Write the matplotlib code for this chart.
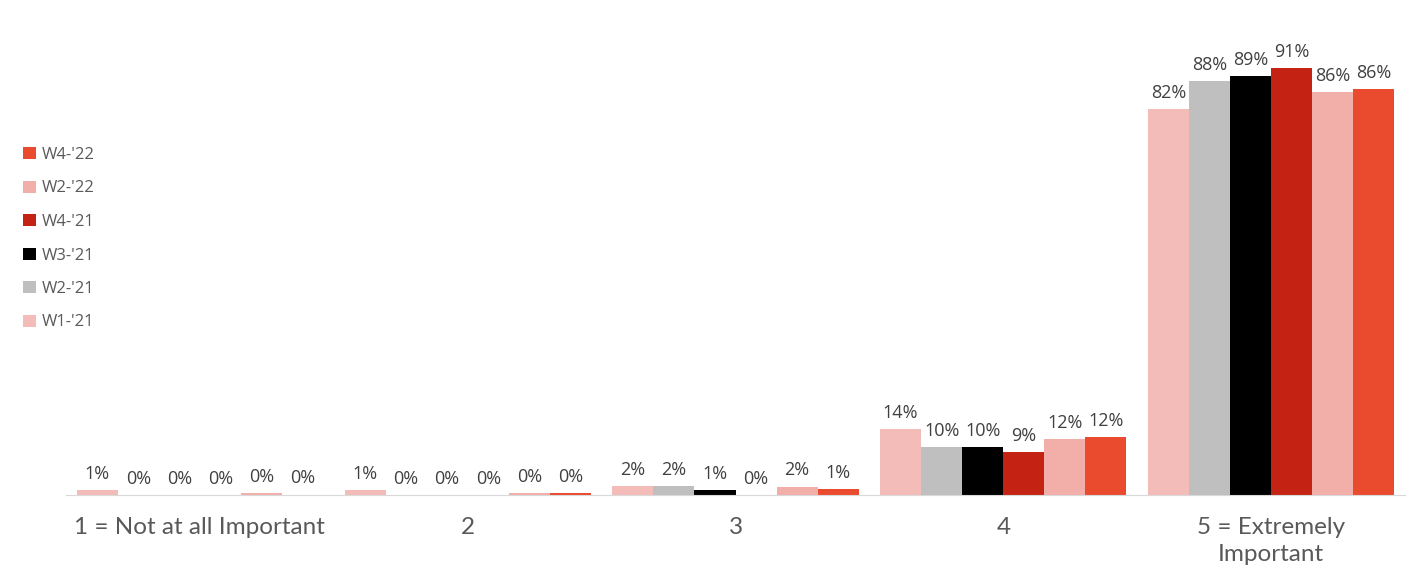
import matplotlib
matplotlib.use('Agg')
import matplotlib.pyplot as plt
import numpy as np

categories = ['1 = Not at all Important', '2', '3', '4', '5 = Extremely\nImportant']
series = ["W1-'21", "W2-'21", "W3-'21", "W4-'21", "W2-'22", "W4-'22"]
colors = ['#F4BCB9', '#BFBFBF', '#000000', '#C42314', '#F2AEA9', '#EA4B2F']
values = [
    [1.0, 0.0, 0.0, 0.0, 0.4, 0.1],
    [1.0, 0.0, 0.0, 0.0, 0.4, 0.4],
    [2.0, 2.0, 1.0, 0.0, 1.8, 1.3],
    [14.0, 10.2, 10.2, 9.2, 11.9, 12.3],
    [82.1, 88.0, 89.1, 90.8, 85.7, 86.3],
]
vals = np.array(values).T  # series x category

fig = plt.figure(figsize=(14.1, 5.74), dpi=100)
ax = fig.add_axes([66/1410, 79/574, 1339/1410, 470/574])

x = np.arange(len(categories))
w = 0.92 / len(series)
for i, (name, col) in enumerate(zip(series, colors)):
    pos = x - 0.46 + w * (i + 0.5)
    ax.bar(pos, vals[i], width=w, color=col, label=name)
    for xp, v in zip(pos, vals[i]):
        ax.text(xp, v + 1.5, f'{v:.0f}%', ha='center', va='bottom',
                fontsize=13, color='#404040', family='Open Sans')

ax.set_xlim(-0.5, len(categories) - 0.5)
ax.set_ylim(0, 100)
ax.set_yticks([])
ax.set_xticks(x)
ax.set_xticklabels(categories, fontsize=17.5, color='#595959', family='Lato',
                   linespacing=1.35)
ax.tick_params(axis='x', length=0, pad=16)
for s in ['top', 'right', 'left']:
    ax.spines[s].set_visible(False)
ax.spines['bottom'].set_color('#D9D9D9')

h, l = ax.get_legend_handles_labels()
fig.legend(h[::-1], l[::-1], loc='upper left', bbox_to_anchor=(8/1410, 1 - 132/574),
           frameon=False, labelcolor='#595959',
           handlelength=0.75, handleheight=0.75, handletextpad=0.35, labelspacing=1.05,
           prop={'family': 'Open Sans', 'size': 12})

fig.savefig('out.png', dpi=100)
